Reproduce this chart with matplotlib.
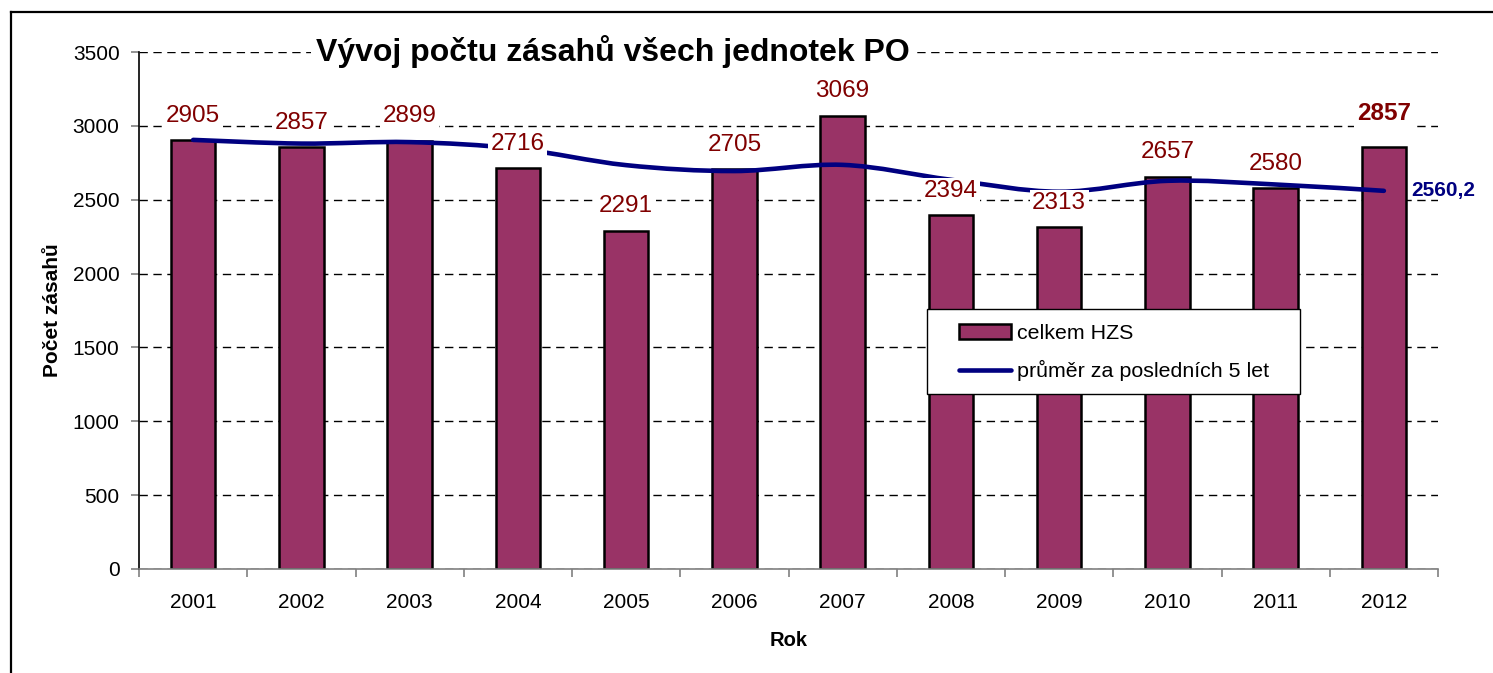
import matplotlib
matplotlib.use("Agg")
import matplotlib.pyplot as plt
from matplotlib.path import Path
from matplotlib.patches import PathPatch, Patch, Rectangle
from matplotlib.lines import Line2D

plt.rcParams['font.family'] = ['Liberation Sans', 'DejaVu Sans']

years = ['2001', '2002', '2003', '2004', '2005', '2006', '2007', '2008', '2009', '2010', '2011', '2012']
celkem_hzs = [2905, 2857, 2899, 2716, 2291, 2705, 3069, 2394, 2313, 2657, 2580, 2857]
prumer_5_let = [2905, 2880, 2890, 2845, 2734, 2694, 2736, 2635, 2554, 2628, 2603, 2560.2]
y_ticks = [0, 500, 1000, 1500, 2000, 2500, 3000, 3500]

title = 'Vývoj počtu zásahů všech jednotek PO'
bar_color = '#993366'
line_color = '#000080'
label_color = '#800000'

W, H = 1493, 673
fig = plt.figure(figsize=(W/100, H/100), dpi=100)
ax = fig.add_axes([139/W, 1-569/H, (1438-139)/W, (569-52)/H])

x = list(range(len(years)))
ax.bar(x, celkem_hzs, width=0.41, color=bar_color, edgecolor='black', linewidth=1.8, zorder=2)

# smoothed line (Bezier through data points, like Excel's smoothed line)
verts = [(x[0], prumer_5_let[0])]
codes = [Path.MOVETO]
n = len(x)
for i in range(n - 1):
    p0 = (x[max(i-1, 0)], prumer_5_let[max(i-1, 0)])
    p1 = (x[i], prumer_5_let[i])
    p2 = (x[i+1], prumer_5_let[i+1])
    p3 = (x[min(i+2, n-1)], prumer_5_let[min(i+2, n-1)])
    c1 = (p1[0] + (p2[0]-p0[0])/6, p1[1] + (p2[1]-p0[1])/6)
    c2 = (p2[0] - (p3[0]-p1[0])/6, p2[1] - (p3[1]-p1[1])/6)
    verts += [c1, c2, p2]
    codes += [Path.CURVE4]*3
ax.add_patch(PathPatch(Path(verts, codes), facecolor='none', edgecolor=line_color,
                       linewidth=3.3, capstyle='round', zorder=3))

# data labels
for i, v in enumerate(celkem_hzs):
    last = (i == n - 1)
    ax.annotate(str(v), (x[i], v), xytext=(0, 24 if last else 17.5), textcoords='offset points',
                ha='center', va='center', fontsize=17.5, color=label_color,
                fontweight='bold' if last else 'normal',
                bbox=dict(boxstyle='square,pad=0.1', facecolor='white', edgecolor='none'),
                zorder=5)
ax.annotate('2560,2', (x[-1], prumer_5_let[-1]), xytext=(20, 0), textcoords='offset points',
            ha='left', va='center', fontsize=15, color=line_color, fontweight='bold',
            annotation_clip=False, zorder=5)

ax.set_xlim(-0.5, n - 0.5)
ax.set_ylim(0, 3500)
ax.set_yticks(y_ticks)
ax.set_yticklabels([str(t) for t in y_ticks], fontsize=15)
ax.set_xticks(x)
ax.set_xticklabels(years, fontsize=15)
ax.set_xticks([i - 0.5 for i in range(n + 1)], minor=True)
ax.tick_params(axis='x', which='major', length=0, pad=17)
ax.tick_params(axis='x', which='minor', length=6, color='#808080', width=1.2)
ax.tick_params(axis='y', length=6, color='#808080', width=1.2, pad=8)

ax.yaxis.grid(True, color='black', linestyle=(0, (6, 4)), linewidth=1)
ax.set_axisbelow(True)
for s in ['top', 'right']:
    ax.spines[s].set_visible(False)
ax.spines['left'].set_color('black')
ax.spines['left'].set_linewidth(1.2)
ax.spines['bottom'].set_color('#808080')
ax.spines['bottom'].set_linewidth(1.2)

ax.set_ylabel('Počet zásahů', fontsize=15, fontweight='bold', labelpad=8)
ax.set_xlabel('Rok', fontsize=14.5, fontweight='bold', labelpad=14)

fig.text(613/W, 1-52/H, title, ha='center', va='center', fontsize=23, fontweight='bold',
         bbox=dict(boxstyle='square,pad=0.15', facecolor='white', edgecolor='none'), zorder=10)

# legend: frame drawn as a figure rectangle, entries via legend without frame
fig.add_artist(Rectangle((927/W, 1-394/H), (1300-927)/W, (394-309)/H, transform=fig.transFigure,
                         facecolor='white', edgecolor='black', linewidth=1.0, zorder=4))
handles = [Patch(facecolor=bar_color, edgecolor='black', linewidth=1.8),
           Line2D([0], [0], color=line_color, linewidth=3.3, solid_capstyle='round')]
leg = fig.legend(handles, ['celkem HZS', 'průměr za posledních 5 let'],
                 loc='upper left', bbox_to_anchor=(959/W, 1-324/H),
                 fontsize=15.4, frameon=False,
                 handlelength=2.45, handletextpad=0.25, labelspacing=0.8, borderpad=0,
                 borderaxespad=0)
leg.set_zorder(6)

# outer frame (left and top edges)
fig.add_artist(Line2D([11/W, 11/W], [0, 1-12/H], color='black', linewidth=1.6,
                      transform=fig.transFigure))
fig.add_artist(Line2D([11/W, 1], [1-12/H, 1-12/H], color='black', linewidth=1.6,
                      transform=fig.transFigure))

fig.savefig('out.png', dpi=100)
